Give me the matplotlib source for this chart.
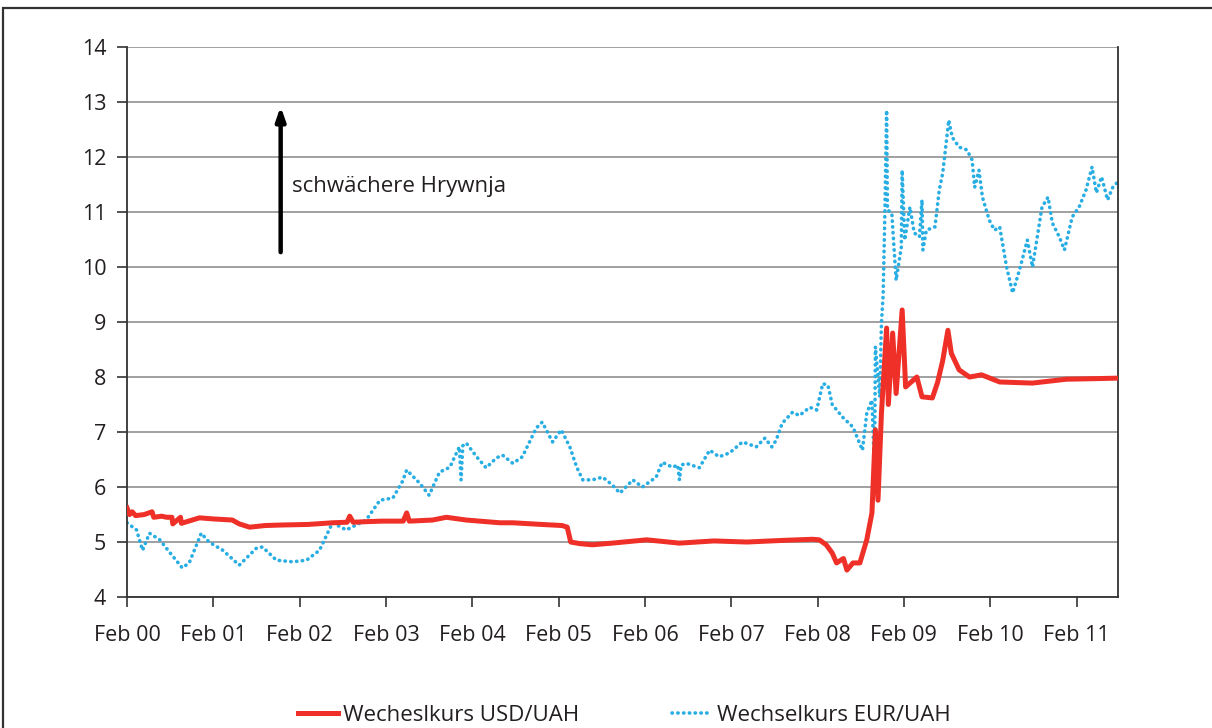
import matplotlib
matplotlib.use("Agg")
import matplotlib.pyplot as plt
from matplotlib.patches import Rectangle

plt.rcParams['font.family'] = ['Open Sans', 'DejaVu Sans']

# years since Feb 2000 and exchange rates (UAH per unit)
usd_t = [0.00, 0.03, 0.06, 0.10, 0.20, 0.29, 0.31, 0.40, 0.46, 0.52, 0.53, 0.62, 0.63, 0.84,
         1.00, 1.22, 1.30, 1.42, 1.60, 1.80, 2.10, 2.38, 2.55, 2.58, 2.62, 2.77, 2.95, 3.20,
         3.24, 3.27, 3.54, 3.70, 3.93, 4.32, 4.47, 4.80, 5.04, 5.10, 5.14, 5.25, 5.39, 5.62,
         6.02, 6.40, 6.80, 7.18, 7.60, 7.94, 8.02, 8.10, 8.17, 8.22, 8.30, 8.34, 8.41, 8.49,
         8.57, 8.63, 8.67, 8.70, 8.74, 8.80, 8.82, 8.87, 8.91, 8.98, 9.02, 9.15, 9.21, 9.33,
         9.39, 9.45, 9.51, 9.55, 9.64, 9.76, 9.90, 10.11, 10.49, 10.88, 11.20, 11.48]
usd_v = [5.62, 5.50, 5.55, 5.48, 5.50, 5.55, 5.45, 5.47, 5.45, 5.45, 5.33, 5.45, 5.34, 5.44,
         5.42, 5.40, 5.33, 5.27, 5.30, 5.31, 5.32, 5.35, 5.36, 5.47, 5.36, 5.37, 5.38, 5.38,
         5.53, 5.38, 5.40, 5.45, 5.40, 5.35, 5.35, 5.32, 5.30, 5.27, 5.00, 4.97, 4.95, 4.98,
         5.04, 4.98, 5.02, 5.00, 5.03, 5.05, 5.04, 4.95, 4.80, 4.62, 4.70, 4.49, 4.62, 4.62,
         5.04, 5.53, 7.04, 5.76, 7.34, 8.89, 7.50, 8.80, 7.70, 9.22, 7.82, 8.00, 7.64, 7.62,
         7.90, 8.30, 8.85, 8.43, 8.13, 8.00, 8.04, 7.91, 7.89, 7.96, 7.97, 7.98]

eur_t = [0.00, 0.11, 0.18, 0.26, 0.38, 0.49, 0.64, 0.72, 0.86, 0.95, 1.11, 1.30, 1.50, 1.57,
         1.73, 1.92, 2.08, 2.23, 2.38, 2.54, 2.77, 2.93, 3.08, 3.19, 3.24, 3.39, 3.50, 3.62,
         3.74, 3.85, 3.87, 3.89, 3.93, 4.05, 4.16, 4.28, 4.35, 4.47, 4.58, 4.74, 4.81, 4.93,
         5.03, 5.13, 5.21, 5.28, 5.39, 5.51, 5.62, 5.71, 5.86, 5.97, 6.13, 6.20, 6.32, 6.38,
         6.40, 6.42, 6.48, 6.63, 6.75, 6.86, 6.98, 7.13, 7.29, 7.39, 7.47, 7.52, 7.59, 7.71,
         7.79, 7.91, 7.99, 8.06, 8.12, 8.17, 8.29, 8.41, 8.52, 8.57, 8.63, 8.66, 8.67, 8.72,
         8.74, 8.76, 8.78, 8.80, 8.81, 8.86, 8.91, 8.97, 8.98, 9.01, 9.07, 9.12, 9.18, 9.21,
         9.22, 9.26, 9.36, 9.41, 9.45, 9.49, 9.52, 9.56, 9.64, 9.73, 9.79, 9.82, 9.87, 9.91,
         9.99, 10.05, 10.11, 10.19, 10.26, 10.34, 10.43, 10.49, 10.60, 10.67, 10.72, 10.80,
         10.86, 10.95, 11.03, 11.11, 11.18, 11.23, 11.29, 11.36, 11.42, 11.48]
eur_v = [5.35, 5.22, 4.85, 5.16, 5.04, 4.82, 4.53, 4.62, 5.16, 5.00, 4.85, 4.58, 4.89, 4.91,
         4.67, 4.64, 4.67, 4.85, 5.35, 5.22, 5.40, 5.76, 5.80, 6.10, 6.31, 6.07, 5.85, 6.27,
         6.36, 6.73, 6.13, 6.75, 6.80, 6.55, 6.35, 6.53, 6.58, 6.43, 6.55, 7.07, 7.18, 6.82,
         7.04, 6.73, 6.36, 6.13, 6.13, 6.18, 6.04, 5.89, 6.13, 6.00, 6.18, 6.45, 6.36, 6.40,
         6.13, 6.40, 6.43, 6.35, 6.67, 6.55, 6.62, 6.82, 6.73, 6.89, 6.73, 6.85, 7.16, 7.36,
         7.30, 7.45, 7.40, 7.88, 7.85, 7.50, 7.27, 7.09, 6.67, 7.34, 7.58, 6.25, 8.55, 7.64,
         8.98, 9.50, 11.00, 12.85, 11.04, 10.98, 9.76, 10.36, 11.76, 10.49, 11.09, 10.62, 10.55, 11.22,
         10.31, 10.67, 10.73, 11.40, 11.71, 12.25, 12.67, 12.36, 12.18, 12.13, 11.95, 11.45, 11.76, 11.27,
         10.85, 10.67, 10.73, 10.00, 9.53, 9.95, 10.49, 10.00, 11.09, 11.27, 10.80, 10.55,
         10.31, 10.91, 11.09, 11.40, 11.82, 11.35, 11.64, 11.22, 11.45, 11.55]

year_ticks = list(range(12))
year_labels = ['Feb 00', 'Feb 01', 'Feb 02', 'Feb 03', 'Feb 04', 'Feb 05', 'Feb 06',
               'Feb 07', 'Feb 08', 'Feb 09', 'Feb 10', 'Feb 11']
y_ticks = list(range(4, 15))

red = '#ee3028'
blue = '#29aee3'
text_col = '#231f20'

fig = plt.figure(figsize=(12.12, 7.28), dpi=100)
ax = fig.add_axes([0.1048, 0.1799, 0.8176, 0.7555])

ax.plot(usd_t, usd_v, color=red, lw=3.6, solid_joinstyle='round', zorder=3,
        label='Wecheslkurs USD/UAH')
ax.plot(eur_t, eur_v, color=blue, lw=2.6, linestyle=(0, (0.1, 1.5)),
        dash_capstyle='round', zorder=2, label='Wechselkurs EUR/UAH')

ax.set_xlim(0, 11.48)
ax.set_ylim(4, 14)
ax.set_xticks(year_ticks)
ax.set_xticklabels(year_labels)
ax.set_yticks(y_ticks)
ax.yaxis.grid(True, color='#a0a0a0', lw=1.4)
ax.set_axisbelow(True)
ax.tick_params(axis='both', direction='out', length=7, width=1.2, colors='#333333',
               labelcolor=text_col, labelsize=15.5)
ax.tick_params(axis='x', pad=13)
ax.tick_params(axis='y', pad=8)
ax.spines['top'].set_visible(False)
for s in ['left', 'bottom', 'right']:
    ax.spines[s].set_color('#333333')
    ax.spines[s].set_linewidth(1.3)

ax.annotate('', xy=(1.78, 12.97), xytext=(1.78, 10.22),
            arrowprops=dict(arrowstyle='-|>,head_length=0.8,head_width=0.28',
                            color='black', lw=3.2))
ax.text(1.91, 11.47, 'schwächere Hrywnja', fontsize=16, color=text_col,
        va='center', ha='left')

leg = fig.legend(loc='center', bbox_to_anchor=(0.515, 0.017), ncol=2, frameon=False,
                 fontsize=16, handlelength=1.8, handletextpad=0.2, columnspacing=4.2)
for t in leg.get_texts():
    t.set_color(text_col)

fig.add_artist(Rectangle((0.0028, -0.2), 1.2, 1.1888, transform=fig.transFigure,
                         fill=False, edgecolor='#333333', lw=1.6))

fig.savefig('out.png', dpi=100)
